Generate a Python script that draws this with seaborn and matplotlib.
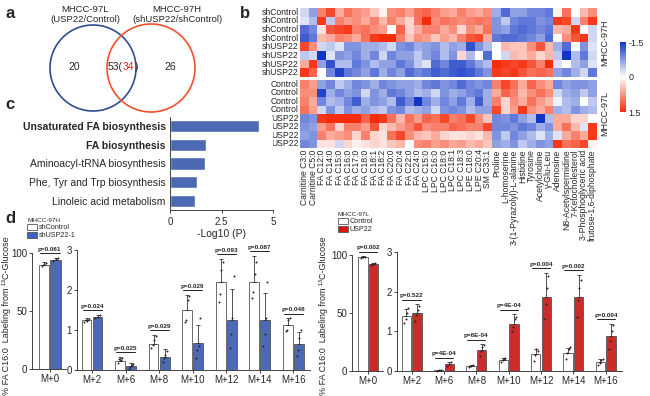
import numpy as np
import pandas as pd
import matplotlib
matplotlib.use('Agg')
import matplotlib.pyplot as plt
import seaborn as sns
from matplotlib.patches import Circle, Patch
from matplotlib.colors import LinearSegmentedColormap

W, H = 650, 396

# ---------------- data ----------------
# a: Venn counts
venn_97l_only = 20
venn_shared = 53
venn_shared_shown = 34
venn_97h_only = 26

# c: pathway enrichment
pathways = ['Unsaturated FA biosynthesis', 'FA biosynthesis', 'Aminoacyl-tRNA biosynthesis',
            'Phe, Tyr and Trp biosynthesis', 'Linoleic acid metabolism']
pathway_logp = [4.3, 1.75, 1.7, 1.32, 1.2]
pathway_bold = [True, True, False, False, False]

# b: heatmap (z-scores)
metabolites = ['Carnitine C3:0', 'Carnitine C5:0', 'FA C12:0', 'FA C14:0', 'FA C15:0', 'FA C16:0',
               'FA C17:0', 'FA C18:0', 'FA C18:1', 'FA C18:2', 'FA C20:0', 'FA C20:4', 'FA C22:0',
               'FA C24:0', 'LPC C15:0', 'LPC C16:0', 'LPC C18:0', 'LPC C18:1', 'LPC C18:3',
               'LPE C18:0', 'LPE C20:4', 'SM C33:1', 'Proline', 'L-homoserine',
               '3-(1-Pyrazolyl)-L-alanine', 'Histidine', 'Tyrosine', 'Acetylcholine', 'γ-Glu-Leu',
               'Adenosine', 'N8-Acetylspermidine', '7-Ketocholesterol', '3-Phosphoglyceric acid',
               'frutose-1,6-diphosphate']
rows_97h = ['shControl'] * 4 + ['shUSP22'] * 4
rows_97l = ['Control'] * 4 + ['USP22'] * 4

z_97h = [
    [-0.3, -0.7, 0.9, 1.3, 0.6, 1.0, 0.8, 0.7, 0.4, 0.1, 0.8, 0.9, 0.7, 1.0, 1.1, 0.9, 0.7, 0.6, 0.9, 0.7, 0.6, 0.8,
     -0.6, -1.1, -0.7, -0.7, -0.9, -0.9, -1.0, 0.1, 1.0, 0.0, 0.5, 0.8],
    [-0.2, -0.5, 1.4, -0.4, 0.9, 0.7, 0.8, 0.6, 0.9, 0.5, 0.9, 0.6, 0.3, 1.0, 1.5, 0.8, 1.0, 0.9, 0.8, 0.9, 1.0, 0.9,
     -0.8, -0.4, -0.9, -1.0, -1.0, -0.8, -0.9, 1.4, 1.3, -0.3, 0.9, 1.4],
    [-1.1, -0.9, 0.2, 1.2, 1.3, 1.4, 0.9, 1.0, 0.8, 0.7, 0.0, 1.1, 0.3, 0.6, 0.9, 0.9, 0.6, 0.8, 0.3, 0.8, 0.6, 1.0,
     -0.8, -0.7, -1.0, -1.1, -1.0, -0.9, -1.0, 0.5, 0.6, 1.4, 0.0, -0.3],
    [-1.2, -1.0, 0.5, 0.6, 0.9, 0.8, 0.6, 1.0, 1.4, 1.5, 1.5, 0.9, 0.4, 0.8, 0.7, 0.4, 0.7, 0.5, 0.9, 1.2, 1.3, 0.6,
     -1.0, -1.1, -1.1, -1.0, -0.9, -0.7, -1.1, 0.0, 0.8, 1.2, 1.4, -0.3],
    [1.3, 0.8, -0.3, -0.4, -0.2, -0.8, -0.8, -0.6, -0.6, -0.5, -0.3, -0.8, -0.9, -0.6, -0.7, -0.8, -0.5, -0.7, -0.6,
     -1.3, -0.8, -0.5, 0.0, 0.5, 0.4, 0.4, 0.8, 1.2, 0.5, -0.6, -1.1, 0.0, -0.8, -0.2],
    [-0.4, -0.3, -1.5, -0.2, -0.8, -0.7, -0.9, -0.6, -0.9, -0.3, -0.9, -0.7, -0.7, -0.4, -0.7, -0.9, -0.5, -0.8, 0.3,
     -0.5, 0.0, -1.1, 0.0, -0.3, 0.5, 0.4, 0.6, 0.3, 0.5, -0.4, -1.5, -0.5, -1.0, -0.3],
    [0.6, 1.4, -0.7, -1.3, -0.5, -0.5, -1.0, -0.8, -0.5, -0.7, -0.7, -1.0, -0.8, -0.4, -0.2, -1.1, -0.9, -1.2, -1.2,
     -1.0, -0.7, -0.5, 1.5, 1.4, 1.3, 1.4, 1.2, 0.9, 1.5, -0.2, 0.0, -0.5, -0.7, -0.2],
    [1.4, 1.1, 0.0, -0.9, -1.4, -1.0, -0.9, -0.7, -1.0, -0.6, -0.9, -0.7, -1.1, -0.9, -1.0, -1.2, -1.1, -1.2, -1.3,
     -1.2, -1.0, -0.8, 1.4, 1.3, 1.4, 1.2, 1.0, 1.1, 1.0, -0.7, -0.9, -0.6, -0.3, -1.0],
]
z_97l = [
    [0.9, 0.7, -0.7, -0.9, -0.4, -0.6, -0.9, -0.8, -0.6, -0.9, -0.8, -0.7, -0.7, -0.6, -0.9, -1.0, -0.8, -0.9, -1.1,
     -0.9, -0.8, -0.9, 0.9, 1.3, 1.0, 0.6, 1.1, 0.8, 0.6, -0.9, -0.7, -0.8, -0.8, -0.7],
    [0.8, 0.8, -1.4, -0.6, -0.9, -0.7, -0.8, -0.3, -0.8, -0.6, -1.0, -0.9, -0.7, -0.5, -0.6, -0.3, -0.8, -0.6, -0.7,
     -0.9, -1.0, -0.6, 0.6, 1.1, 0.9, 0.5, 0.8, 1.0, 0.8, -0.3, -0.6, -0.7, -0.4, -0.7],
    [0.9, 0.6, -0.9, -0.5, -0.6, -0.9, -1.2, -0.6, -0.8, -0.7, -0.5, -1.2, -0.9, -1.5, -0.9, -0.6, -0.9, -0.7, -1.0,
     -0.6, -1.2, -0.6, 0.9, 0.3, 0.8, 0.6, 1.0, 0.7, 0.5, -0.1, -0.5, -0.6, 0.0, -0.4],
    [1.0, 0.7, -0.3, -0.8, -0.4, -0.8, -0.6, -0.7, -0.5, -0.4, -0.8, -0.9, -0.5, -0.6, -0.7, -0.3, -0.8, -0.9, -0.8,
     -0.5, -0.7, -0.7, 1.3, 0.3, 0.7, 1.4, 0.8, 0.6, 0.9, -0.6, -0.5, -0.8, -0.6, -0.5],
    [-0.9, -0.8, 1.4, 1.5, 1.5, 1.5, 1.5, 1.1, 1.5, 1.4, 1.0, 0.5, 1.0, 0.7, 1.1, 1.0, 1.3, 0.9, 1.0, 1.3, 0.8, 0.4,
     -0.9, -0.8, -1.0, -0.7, -0.5, -1.5, -0.5, 0.6, 0.6, 0.3, 0.3, 0.0],
    [-0.8, -0.7, 0.7, 1.0, 0.3, 0.9, 0.9, 0.7, 1.2, 0.3, 0.5, 0.7, 0.9, 1.2, 0.8, 0.9, 0.9, 1.1, 1.0, 0.9, 0.9, 1.3,
     -0.9, -0.9, -0.8, -1.0, -0.9, -0.6, -0.8, 0.6, 1.0, 0.5, -0.2, 1.4],
    [-0.7, -0.8, 0.9, 0.6, 0.7, 0.8, 0.3, 0.9, 0.3, 0.2, 1.0, 1.3, 0.8, 0.5, 0.4, 0.6, 0.3, 0.2, 0.2, 0.3, 0.2, 0.5,
     -0.8, -0.4, -0.9, -0.7, -0.5, -0.2, -0.6, -0.2, 0.6, 0.9, 0.6, 1.4],
    [-0.9, -0.8, 0.2, 0.2, -0.3, 0.3, 0.1, 0.2, 0.3, 0.2, 0.4, 0.5, 0.0, 0.8, 0.9, 0.7, 0.8, 0.6, 0.7, 0.5, 0.6, 0.4,
     -0.7, -0.6, -0.8, -0.4, -0.6, -0.8, -0.7, 1.4, 1.0, 1.1, 1.3, 0.1],
]

# d: 13C labeling of FA C16:0 (mean, sd, replicates)
isotopologues = ['M+0', 'M+2', 'M+6', 'M+8', 'M+10', 'M+12', 'M+14', 'M+16']

h_ctrl_mean = [90, 1.24, 0.23, 0.66, 1.5, 2.2, 2.2, 1.12]
h_ctrl_sd = [2, 0.05, 0.1, 0.21, 0.37, 0.57, 0.65, 0.17]
h_sh_mean = [94, 1.32, 0.09, 0.33, 0.68, 1.24, 1.24, 0.65]
h_sh_sd = [2, 0.05, 0.08, 0.19, 0.45, 0.78, 0.68, 0.3]
h_ctrl_pts = [[88.5, 90.5, 91.5], [1.20, 1.25, 1.22, 1.27], [0.18, 0.28, 0.25, 0.30], [0.55, 0.62, 0.75, 0.85],
              [1.2, 1.25, 1.75, 1.85], [1.7, 1.9, 2.5, 2.7], [1.8, 1.95, 2.4, 2.7], [0.98, 1.0, 1.25, 1.3]]
h_sh_pts = [[93, 95, 96], [1.30, 1.33, 1.38], [0.03, 0.08, 0.12, 0.15], [0.2, 0.3, 0.38, 0.48],
            [0.3, 0.5, 0.6, 1.3], [0.55, 0.9, 1.3, 2.35], [0.6, 0.9, 1.3, 2.2], [0.35, 0.5, 0.8, 1.0]]
h_pvals = ['p=0.061', 'p=0.024', 'p=0.025', 'p=0.029', 'p=0.029', 'p=0.093', 'p=0.087', 'p=0.048']

l_ctrl_mean = [98, 1.38, 0.02, 0.12, 0.27, 0.42, 0.45, 0.23]
l_ctrl_sd = [1, 0.19, 0.01, 0.02, 0.05, 0.13, 0.13, 0.07]
l_usp_mean = [92, 1.46, 0.17, 0.52, 1.18, 1.87, 1.87, 0.88]
l_usp_sd = [1.5, 0.22, 0.05, 0.15, 0.25, 0.6, 0.55, 0.3]
l_ctrl_pts = [[97, 98, 98.5], [1.2, 1.3, 1.45, 1.6], [0.01, 0.02, 0.02], [0.1, 0.12, 0.14],
              [0.22, 0.27, 0.3, 0.32], [0.25, 0.4, 0.55, 0.5], [0.3, 0.45, 0.55, 0.6], [0.15, 0.2, 0.28, 0.3]]
l_usp_pts = [[91, 92, 93], [1.25, 1.4, 1.55, 1.65], [0.13, 0.18, 0.22], [0.38, 0.5, 0.6, 0.65],
             [1.0, 1.1, 1.3, 1.35], [1.3, 1.7, 2.1, 2.4], [1.35, 1.8, 2.1, 2.3], [0.55, 0.75, 1.0, 1.15]]
l_pvals = ['p=0.002', 'p=0.522', 'p=4E-04', 'p=6E-04', 'p=4E-04', 'p=0.004', 'p=0.002', 'p=0.004']

BLUE = '#3a63c4'
RED = '#e3120f'

sns.set_style('ticks')
plt.rcParams['font.family'] = ['Liberation Sans', 'DejaVu Sans']
plt.rcParams['axes.linewidth'] = 0.6


def px_axes(fig, x0, y0, x1, y1):
    """Axes placed by pixel box (top-left origin)."""
    return fig.add_axes([x0 / W, 1 - y1 / H, (x1 - x0) / W, (y1 - y0) / H])


def draw_venn(fig):
    ax = px_axes(fig, 0, 0, 260, 118)
    ax.set_xlim(0, 260)
    ax.set_ylim(118, 0)
    ax.axis('off')
    ax.add_patch(Circle((93, 68), 43, fill=False, ec='#2f4d8e', lw=1.2))
    ax.add_patch(Circle((151, 68), 44, fill=False, ec='#f0502c', lw=1.2))
    ax.text(120, 5, 'MHCC-97L\n(USP22/Control)', ha='right', va='top', fontsize=6.8, ma='center')
    ax.text(132, 5, 'MHCC-97H\n(shUSP22/shControl)', ha='left', va='top', fontsize=6.8, ma='center')
    ax.text(74, 67, str(venn_97l_only), ha='center', va='center', fontsize=7.5)
    ax.text(170, 67, str(venn_97h_only), ha='center', va='center', fontsize=7.5)
    t1 = ax.text(108, 67, f'{venn_shared}(', ha='left', va='center', fontsize=7.5)
    t2 = ax.annotate(str(venn_shared_shown), xycoords=t1, xy=(1, 0), va='bottom', fontsize=7.5, color='#e8201a')
    ax.annotate(')', xycoords=t2, xy=(1, 0), va='bottom', fontsize=7.5)


def draw_heatmap(fig):
    cmap = LinearSegmentedColormap.from_list('bwr_fig', ['#1236c4', '#ffffff', '#f42c0a'])
    cax = px_axes(fig, 620, 42, 626, 112)
    ax_h = px_axes(fig, 300, 8, 597, 77)
    ax_l = px_axes(fig, 300, 80, 597, 148)
    sns.heatmap(pd.DataFrame(z_97h, index=rows_97h, columns=metabolites), cmap=cmap, vmin=-1.5, vmax=1.5,
                ax=ax_h, cbar_ax=cax, xticklabels=False, yticklabels=True)
    sns.heatmap(pd.DataFrame(z_97l, index=rows_97l, columns=metabolites), cmap=cmap, vmin=-1.5, vmax=1.5,
                ax=ax_l, cbar=False, xticklabels=True, yticklabels=True)
    for ax, rows, name in [(ax_h, rows_97h, 'MHCC-97H'), (ax_l, rows_97l, 'MHCC-97L')]:
        ax.set_yticklabels(rows, rotation=0, fontsize=6.2)
        ax.tick_params(length=0, pad=1)
        ax.text(1.012, 0.5, name, transform=ax.transAxes, rotation=90, va='center', ha='left', fontsize=6.5)
    ax_l.set_xticklabels(metabolites, rotation=90, fontsize=6.2)
    cax.invert_yaxis()
    cax.set_yticks([-1.5, 0, 1.5])
    cax.set_yticklabels(['-1.5', '0', '1.5'])
    cax.tick_params(length=0, labelsize=6.5, pad=2)
    for s in cax.spines.values():
        s.set_visible(False)


def draw_pathways(fig):
    ax = px_axes(fig, 170, 116.6, 273, 210.4)
    sns.barplot(x=pathway_logp, y=pathways, orient='h', color=BLUE, width=0.65, ax=ax)
    ax.set_xlim(0, 5)
    ax.set_xticks([0, 2.5, 5])
    ax.set_xticklabels(['0', '2.5', '5'])
    ax.tick_params(axis='x', length=2, width=0.6, labelsize=7, pad=3)
    ax.tick_params(axis='y', length=0, labelsize=7.5, pad=3)
    for lab, bold in zip(ax.get_yticklabels(), pathway_bold):
        if bold:
            lab.set_fontweight('bold')
    ax.set_xlabel('-Log10 (P)', fontsize=7.5, labelpad=1)
    ax.set_ylabel('')
    sns.despine(ax=ax)


def draw_labeling(fig, boxes, ctrl_mean, ctrl_sd, trt_mean, trt_sd, ctrl_pts, trt_pts, pvals, trt_color):
    specs = [([0], (0, 100), [0, 50, 100], 0.78, (-0.6, 0.55)),
             (list(range(1, 8)), (0, 3), [0, 1, 2, 3], 0.66, (-0.45, 6.5))]
    for box, (idx, ylim, yticks, width, xlim) in zip(boxes, specs):
        ax = px_axes(fig, *box)
        names = [isotopologues[i] for i in idx]
        df = pd.DataFrame({
            'mass': names * 2,
            'group': ['ctrl'] * len(idx) + ['trt'] * len(idx),
            'mean': [ctrl_mean[i] for i in idx] + [trt_mean[i] for i in idx],
        })
        sns.barplot(data=df, x='mass', y='mean', hue='group', palette=['white', trt_color],
                    width=width, gap=0.12, errorbar=None, legend=False, ax=ax)
        n = len(idx)
        bars_c, bars_t = ax.patches[:n], ax.patches[n:2 * n]
        for p in ax.patches:
            p.set_edgecolor('#555555')
            p.set_linewidth(0.6)
        span = ylim[1] - ylim[0]
        for k, i in enumerate(idx):
            for bar, mean, sd, pts in [(bars_c[k], ctrl_mean[i], ctrl_sd[i], ctrl_pts[i]),
                                       (bars_t[k], trt_mean[i], trt_sd[i], trt_pts[i])]:
                xc = bar.get_x() + bar.get_width() / 2
                ax.errorbar([xc], [mean], yerr=[[0], [sd]], fmt='none', ecolor='#333333',
                            elinewidth=0.6, capsize=1.5, capthick=0.6, clip_on=False)
                xs = xc + np.linspace(-0.22, 0.22, len(pts)) * bar.get_width()
                ax.scatter(xs, pts, s=2.0, color='#222222', zorder=4, clip_on=False, linewidths=0)
            top = max(ctrl_mean[i] + ctrl_sd[i], trt_mean[i] + trt_sd[i]) + 0.04 * span
            x0 = bars_c[k].get_x() + bars_c[k].get_width() * 0.1
            x1 = bars_t[k].get_x() + bars_t[k].get_width() * 0.9
            ax.plot([x0, x1], [top, top], color='#222222', lw=0.7, clip_on=False)
            ax.annotate(pvals[i], xy=((x0 + x1) / 2, top), xytext=(0, 1), textcoords='offset points',
                        ha='center', va='bottom', fontsize=4.6, fontweight='bold', annotation_clip=False)
        ax.set_ylim(*ylim)
        ax.set_yticks(yticks)
        ax.set_xlim(*xlim)
        ax.set_xlabel('')
        ax.set_ylabel('')
        ax.tick_params(length=2, width=0.6, labelsize=7, pad=1.5)
        sns.despine(ax=ax)


def add_legend(fig, x, y, title, labels, color):
    handles = [Patch(facecolor='white', edgecolor='#555555', lw=0.6),
               Patch(facecolor=color, edgecolor='#555555', lw=0.6)]
    leg = fig.legend(handles, labels, loc='upper left', bbox_to_anchor=(x / W, 1 - y / H), title=title,
                     frameon=False, fontsize=5.2, title_fontsize=4.6, handlelength=1.4, handleheight=0.9,
                     handletextpad=0.2, labelspacing=0.1, borderpad=0, borderaxespad=0, alignment='left')
    return leg


fig = plt.figure(figsize=(W / 100, H / 100), dpi=100)

draw_venn(fig)
draw_heatmap(fig)
draw_pathways(fig)

draw_labeling(fig, [(32, 253, 66, 369), (77, 250, 310, 370)], h_ctrl_mean, h_ctrl_sd, h_sh_mean, h_sh_sd,
              h_ctrl_pts, h_sh_pts, h_pvals, BLUE)
draw_labeling(fig, [(352, 255, 383, 371), (397, 252, 622, 371)], l_ctrl_mean, l_ctrl_sd, l_usp_mean, l_usp_sd,
              l_ctrl_pts, l_usp_pts, l_pvals, RED)

add_legend(fig, 27, 218, 'MHCC-97H', ['shControl', 'shUSP22-1'], BLUE)
add_legend(fig, 338, 212, 'MHCC-97L', ['Control', 'USP22'], RED)

ylab = '% FA C16:0  Labeling from ¹³C-Glucose'
fig.text(7 / W, 1 - 316 / H, ylab, rotation=90, ha='center', va='center', fontsize=6.5)
fig.text(324 / W, 1 - 316 / H, ylab, rotation=90, ha='center', va='center', fontsize=6.5)

for letter, (x, y) in {'a': (5, 6), 'b': (240, 6), 'c': (5, 97), 'd': (5, 211)}.items():
    fig.text(x / W, 1 - y / H, letter, fontsize=12, fontweight='bold', ha='left', va='top')

fig.savefig('out.png', dpi=100)
